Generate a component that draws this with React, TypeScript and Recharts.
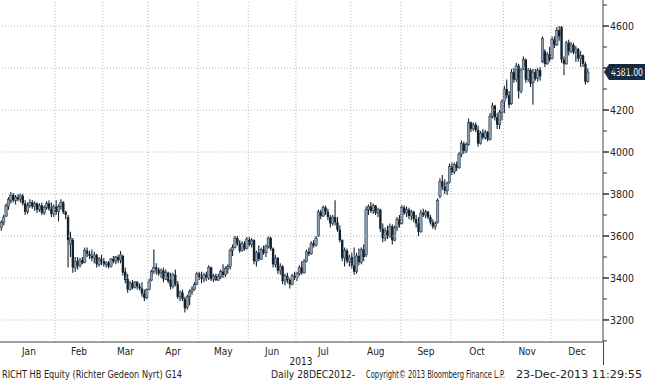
import { Bar, ComposedChart, ReferenceLine, XAxis, YAxis } from "recharts";

// one row per trading day: [open, high, low, close]
const dec12 = [[3640, 3675, 3625, 3665]];
const jan = [
  [3665, 3700, 3650, 3690], [3695, 3755, 3690, 3745], [3740, 3785, 3725, 3775], [3770, 3810, 3755, 3795],
  [3795, 3805, 3760, 3770], [3770, 3795, 3750, 3785], [3785, 3800, 3765, 3775], [3775, 3805, 3760, 3795],
  [3790, 3800, 3745, 3755], [3755, 3770, 3700, 3715], [3715, 3760, 3705, 3745], [3745, 3775, 3735, 3760],
  [3760, 3770, 3730, 3740], [3740, 3765, 3720, 3755], [3755, 3760, 3710, 3725], [3725, 3755, 3715, 3745],
  [3745, 3760, 3700, 3710], [3710, 3745, 3700, 3735], [3735, 3765, 3725, 3755], [3755, 3770, 3720, 3730],
  [3730, 3760, 3690, 3705], [3705, 3750, 3690, 3740],
];
const feb = [
  [3740, 3770, 3700, 3715], [3715, 3750, 3670, 3740], [3740, 3775, 3725, 3760], [3760, 3765, 3705, 3715],
  [3715, 3720, 3680, 3700], [3690, 3700, 3450, 3580], [3560, 3620, 3500, 3590], [3580, 3590, 3425, 3450],
  [3450, 3500, 3430, 3480], [3480, 3500, 3440, 3460], [3460, 3495, 3450, 3485], [3485, 3500, 3465, 3470],
  [3475, 3545, 3470, 3530], [3530, 3545, 3500, 3515], [3515, 3530, 3490, 3505], [3505, 3535, 3480, 3495],
  [3495, 3525, 3470, 3510], [3510, 3515, 3450, 3465], [3465, 3500, 3455, 3490], [3490, 3510, 3460, 3480],
];
const mar = [
  [3480, 3495, 3455, 3465], [3465, 3480, 3450, 3475], [3470, 3480, 3445, 3455], [3455, 3495, 3450, 3490],
  [3490, 3505, 3470, 3480], [3480, 3505, 3465, 3500], [3500, 3510, 3470, 3485], [3485, 3528, 3470, 3510],
  [3505, 3510, 3410, 3425], [3430, 3450, 3375, 3390], [3395, 3420, 3330, 3345], [3345, 3385, 3340, 3375],
  [3375, 3390, 3345, 3355], [3355, 3385, 3350, 3380], [3380, 3385, 3345, 3360], [3360, 3375, 3340, 3350],
  [3350, 3380, 3310, 3325], [3325, 3345, 3290, 3305], [3305, 3350, 3300, 3345],
];
const apr = [
  [3345, 3395, 3340, 3385], [3390, 3440, 3385, 3430], [3430, 3535, 3420, 3450], [3450, 3470, 3415, 3440],
  [3440, 3450, 3410, 3420], [3425, 3445, 3400, 3435], [3435, 3450, 3380, 3395], [3395, 3440, 3390, 3425],
  [3425, 3430, 3375, 3385], [3390, 3425, 3345, 3360], [3360, 3425, 3350, 3415], [3415, 3440, 3360, 3370],
  [3370, 3385, 3300, 3310], [3310, 3340, 3290, 3330], [3330, 3345, 3290, 3300], [3300, 3310, 3235, 3255],
  [3260, 3320, 3250, 3310], [3310, 3345, 3270, 3335], [3335, 3360, 3320, 3345], [3345, 3380, 3340, 3370],
  [3370, 3430, 3365, 3420],
];
const may = [
  [3420, 3430, 3390, 3405], [3405, 3430, 3375, 3395], [3395, 3425, 3380, 3415], [3415, 3430, 3385, 3400],
  [3400, 3460, 3390, 3450], [3450, 3455, 3385, 3395], [3395, 3420, 3380, 3410], [3410, 3420, 3385, 3390],
  [3390, 3420, 3385, 3405], [3405, 3440, 3395, 3430], [3430, 3465, 3400, 3415], [3415, 3455, 3405, 3445],
  [3445, 3465, 3420, 3455], [3455, 3540, 3440, 3530], [3530, 3560, 3505, 3545], [3545, 3600, 3540, 3590],
  [3590, 3600, 3555, 3565], [3565, 3580, 3520, 3530], [3530, 3575, 3525, 3565], [3560, 3575, 3530, 3540],
  [3540, 3595, 3535, 3585],
];
const jun = [
  [3585, 3595, 3550, 3560], [3560, 3590, 3545, 3580], [3580, 3585, 3465, 3480], [3480, 3530, 3455, 3520],
  [3520, 3555, 3480, 3490], [3490, 3545, 3485, 3535], [3535, 3555, 3510, 3520], [3520, 3560, 3500, 3550],
  [3550, 3597, 3540, 3590], [3590, 3597, 3530, 3540], [3540, 3545, 3450, 3465], [3465, 3510, 3450, 3495],
  [3495, 3500, 3420, 3435], [3435, 3470, 3415, 3455], [3455, 3460, 3370, 3385], [3385, 3420, 3365, 3410],
  [3410, 3425, 3375, 3390], [3390, 3400, 3350, 3370], [3370, 3420, 3365, 3410], [3410, 3430, 3390, 3400],
];
const jul = [
  [3400, 3430, 3385, 3420], [3420, 3460, 3410, 3450], [3450, 3480, 3415, 3425], [3425, 3490, 3420, 3480],
  [3480, 3535, 3475, 3525], [3525, 3545, 3505, 3515], [3515, 3575, 3510, 3565], [3565, 3580, 3545, 3555],
  [3555, 3600, 3550, 3590], [3600, 3725, 3595, 3715], [3715, 3725, 3680, 3695], [3695, 3745, 3690, 3735],
  [3735, 3745, 3700, 3715], [3715, 3730, 3675, 3690], [3690, 3700, 3640, 3660], [3660, 3700, 3650, 3690],
  [3690, 3770, 3650, 3665], [3665, 3690, 3620, 3630], [3630, 3650, 3570, 3580], [3580, 3585, 3480, 3495],
  [3495, 3545, 3455, 3530], [3530, 3540, 3470, 3480], [3480, 3510, 3455, 3500],
];
const aug = [
  [3500, 3520, 3445, 3460], [3460, 3545, 3415, 3430], [3430, 3520, 3420, 3505], [3505, 3540, 3460, 3475],
  [3475, 3545, 3465, 3535], [3535, 3560, 3480, 3500], [3510, 3740, 3500, 3725], [3725, 3750, 3700, 3740],
  [3740, 3762, 3710, 3720], [3720, 3755, 3705, 3745], [3745, 3748, 3700, 3710], [3710, 3735, 3690, 3725],
  [3725, 3730, 3620, 3635], [3635, 3660, 3570, 3590], [3590, 3640, 3575, 3625], [3625, 3650, 3585, 3600],
  [3600, 3660, 3590, 3645], [3645, 3655, 3560, 3580], [3580, 3650, 3575, 3640], [3640, 3690, 3625, 3680],
  [3680, 3700, 3640, 3655],
];
const sep = [
  [3660, 3748, 3655, 3735], [3735, 3745, 3700, 3710], [3710, 3740, 3690, 3725], [3725, 3735, 3680, 3695],
  [3695, 3725, 3675, 3715], [3715, 3720, 3665, 3680], [3680, 3700, 3640, 3660], [3660, 3690, 3600, 3620],
  [3620, 3725, 3615, 3710], [3710, 3730, 3690, 3700], [3700, 3725, 3685, 3715], [3715, 3720, 3680, 3690],
  [3690, 3700, 3655, 3665], [3665, 3680, 3635, 3645], [3645, 3670, 3630, 3660], [3665, 3780, 3660, 3770],
  [3790, 3875, 3780, 3860], [3860, 3890, 3820, 3835], [3835, 3870, 3800, 3815], [3815, 3860, 3795, 3850],
  [3855, 3945, 3850, 3930],
];
const oct = [
  [3930, 3950, 3890, 3905], [3905, 3950, 3895, 3940], [3940, 3955, 3910, 3925], [3925, 4000, 3920, 3990],
  [3990, 4055, 3975, 4040], [4040, 4050, 3990, 4005], [4005, 4045, 3995, 4035], [4035, 4160, 4030, 4140],
  [4140, 4145, 4095, 4110], [4110, 4140, 4100, 4130], [4130, 4140, 4095, 4105], [4105, 4125, 4025, 4040],
  [4040, 4100, 4035, 4090], [4090, 4110, 4060, 4070], [4070, 4105, 4060, 4095], [4095, 4100, 4050, 4060],
  [4060, 4185, 4055, 4170], [4170, 4235, 4160, 4220], [4220, 4225, 4150, 4165], [4165, 4185, 4110, 4130],
  [4130, 4200, 4110, 4190], [4190, 4250, 4150, 4240],
];
const nov = [
  [4240, 4315, 4185, 4300], [4300, 4345, 4255, 4270], [4270, 4290, 4210, 4225], [4230, 4395, 4225, 4380],
  [4380, 4400, 4330, 4345], [4345, 4425, 4335, 4410], [4410, 4420, 4255, 4290], [4290, 4400, 4280, 4390],
  [4395, 4455, 4390, 4440], [4440, 4445, 4330, 4345], [4345, 4400, 4335, 4390], [4390, 4400, 4310, 4325],
  [4330, 4395, 4225, 4380], [4380, 4395, 4340, 4350], [4350, 4400, 4335, 4390], [4390, 4405, 4340, 4360],
  [4430, 4550, 4425, 4540], [4480, 4490, 4405, 4420], [4420, 4475, 4415, 4465], [4465, 4500, 4430, 4440],
];
const dec = [
  [4445, 4550, 4440, 4535], [4535, 4550, 4495, 4510], [4510, 4595, 4505, 4580], [4580, 4600, 4530, 4550],
  [4595, 4600, 4425, 4440], [4440, 4455, 4365, 4420], [4420, 4530, 4415, 4520], [4520, 4535, 4460, 4480],
  [4480, 4525, 4470, 4510], [4510, 4520, 4465, 4475], [4475, 4505, 4430, 4490], [4490, 4495, 4430, 4445],
  [4445, 4480, 4405, 4460], [4460, 4465, 4405, 4420], [4420, 4430, 4320, 4335], [4335, 4400, 4330, 4381],
];

const monthRows = [jan, feb, mar, apr, may, jun, jul, aug, sep, oct, nov, dec];
const monthNames = ["Jan", "Feb", "Mar", "Apr", "May", "Jun", "Jul", "Aug", "Sep", "Oct", "Nov", "Dec"];
const priceTicks = [3100, 3200, 3300, 3400, 3500, 3600, 3700, 3800, 3900, 4000, 4100, 4200, 4300, 4400, 4500, 4600, 4700];
const gridPrices = [3200, 3400, 3600, 3800, 4000, 4200, 4400, 4600];
const LAST = 4381;
const Y_DOMAIN = [3095, 4724];
const X_DOMAIN = [-0.63, 252.3];

const rows = [dec12, ...monthRows].flat();
const data = rows.map(([o, h, l, c], i) => ({ i, o, h, l, c }));

// month boundaries (trading-day index) and label centres
const bounds: number[] = [];
const mids: number[] = [];
let start = dec12.length;
monthRows.forEach((m, k) => {
  const lo = start - 0.5;
  const hi = k === monthRows.length - 1 ? X_DOMAIN[1] : start + m.length - 0.5;
  mids.push((lo + hi) / 2);
  start += m.length;
  if (k < monthRows.length - 1) bounds.push(start - 0.5);
});

const FONT = "Tahoma, 'DejaVu Sans Condensed', 'Liberation Sans', sans-serif";
const DARK = "#13222f";
const GRID = "#b8b8b8";

function Candle(props: any) {
  const { x, y, width, height, payload } = props;
  if (!payload || height == null) return null;
  const { o, h, l, c } = payload;
  const top = Math.min(y, y + height);
  const span = Math.abs(height);
  const k = h === l ? 0 : span / (h - l);
  const cx = x + width / 2;
  const yo = top + (h - o) * k;
  const yc = top + (h - c) * k;
  const up = c >= o;
  return (
    <g>
      <line x1={cx} x2={cx} y1={top} y2={top + span} stroke={DARK} strokeWidth={1.1} />
      <rect
        x={cx - 1.2}
        y={Math.min(yo, yc)}
        width={2.4}
        height={Math.max(Math.abs(yc - yo), 1)}
        fill={up ? "#8fa0b3" : DARK}
        stroke={up ? "#2c3c4e" : "none"}
        strokeWidth={0.6}
      />
    </g>
  );
}

function PriceTick(props: any) {
  const { x, y, payload } = props;
  const v = payload.value;
  const major = v % 200 === 0;
  return (
    <g>
      <line x1={x} x2={x + (major ? 6 : 4)} y1={y} y2={y} stroke="#333" strokeWidth={major ? 1.5 : 1} />
      {major && (
        <text x={x + 7} y={y + 4} fontSize={10} fill="#222" fontFamily={FONT} textLength={24} lengthAdjust="spacingAndGlyphs">
          {v}
        </text>
      )}
    </g>
  );
}

function PriceTag(props: any) {
  const vb = props.viewBox;
  if (!vb) return null;
  const x0 = vb.x + vb.width + 1;
  const y0 = vb.y;
  return (
    <g>
      <path
        d={`M${x0} ${y0} L${x0 + 5} ${y0 - 8} L${x0 + 41} ${y0 - 8} L${x0 + 41} ${y0 + 8} L${x0 + 5} ${y0 + 8} Z`}
        fill="#142a45"
      />
      <text
        x={x0 + 7}
        y={y0 + 4}
        fontSize={10}
        fill="#fff"
        fontFamily={FONT}
        textLength={32}
        lengthAdjust="spacingAndGlyphs"
      >
        {LAST.toFixed(2)}
      </text>
    </g>
  );
}

// footer texts: [text, x, width]
const footer: [string, number, number][] = [
  ["RICHT HB Equity (Richter Gedeon Nyrt) G14", 2, 180],
  ["Daily 28DEC2012-", 271, 84],
  ["Copyright© 2013 Bloomberg Finance L.P.", 366, 139],
  ["23-Dec-2013 11:29:55", 516, 126],
];

export default function App() {
  return (
    <div style={{ position: "absolute", left: 0, top: 0, width: 645, height: 380, background: "#fff" }}>
      <ComposedChart width={645} height={380} data={data} margin={{ top: 0, right: 0, bottom: 0, left: 0 }}>
        {gridPrices.map((p) => (
          <ReferenceLine key={p} y={p} stroke={GRID} strokeDasharray="1 2" />
        ))}
        {bounds.map((b) => (
          <ReferenceLine key={b} x={b} stroke={GRID} strokeDasharray="1 2" />
        ))}
        <XAxis
          type="number"
          dataKey="i"
          domain={X_DOMAIN}
          allowDataOverflow
          ticks={bounds}
          interval={0}
          tick={false}
          tickSize={5}
          height={6}
          stroke="#444"
        />
        <XAxis
          xAxisId="m"
          type="number"
          dataKey="i"
          domain={X_DOMAIN}
          allowDataOverflow
          ticks={mids}
          interval={0}
          tickFormatter={(_v: number, idx: number) => monthNames[idx]}
          axisLine={false}
          tickLine={false}
          tickSize={0}
          tickMargin={0}
          height={32}
          tick={{ fontSize: 10, fill: "#222", fontFamily: FONT }}
        />
        <YAxis
          orientation="right"
          domain={Y_DOMAIN}
          allowDataOverflow
          ticks={priceTicks}
          interval={0}
          width={42}
          tickSize={0}
          tickMargin={0}
          tickLine={false}
          stroke="#444"
          tick={<PriceTick />}
        />
        <Bar dataKey={(d: any) => [d.l, d.h]} shape={<Candle />} barSize={2} isAnimationActive={false} />
        <ReferenceLine y={LAST} stroke="none" ifOverflow="visible" label={<PriceTag />} />
      </ComposedChart>
      <div style={{ position: "absolute", left: 603, top: 342, width: 1, height: 23, background: "#444" }} />
      <svg width={645} height={40} style={{ position: "absolute", left: 0, top: 340 }}>
        <text x={301} y={25} fontSize={10} fill="#222" fontFamily={FONT} textAnchor="middle">
          2013
        </text>
        {footer.map(([t, x, w]) => (
          <text key={t} x={x} y={38} fontSize={10} fill="#222" fontFamily={FONT} textLength={w} lengthAdjust="spacingAndGlyphs">
            {t}
          </text>
        ))}
      </svg>
    </div>
  );
}
